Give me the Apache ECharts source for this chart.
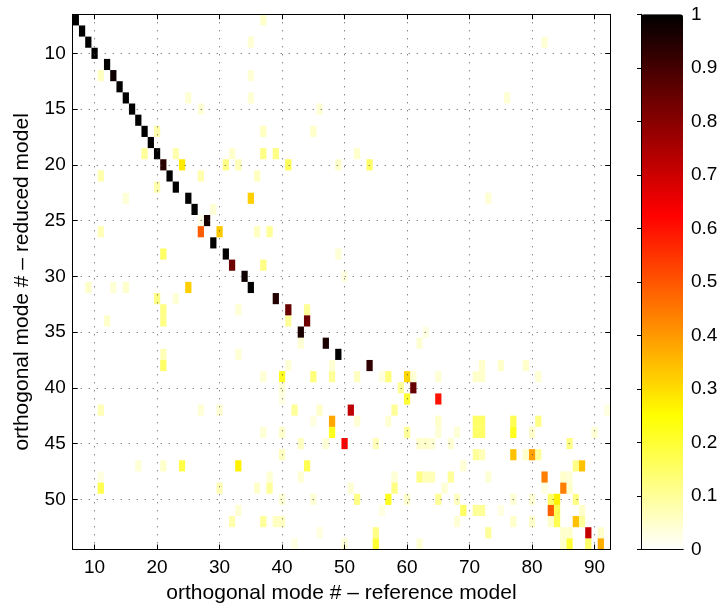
<!DOCTYPE html>
<html><head><meta charset="utf-8">
<script src="https://cdn.jsdelivr.net/npm/echarts@6/dist/echarts.min.js"></script>
<style>html,body{margin:0;padding:0;background:#fff}#c{width:721px;height:609px}</style>
</head><body><div id="c"></div>
<script>
// ---- data ----
const xTicks = [10, 20, 30, 40, 50, 60, 70, 80, 90];
const yTicks = [10, 15, 20, 25, 30, 35, 40, 45, 50];
const cbTicks = [0, 0.1, 0.2, 0.3, 0.4, 0.5, 0.6, 0.7, 0.8, 0.9, 1];
const xExtent = [6.5, 92.5];   // reference model modes 7..92
const yExtent = [6.5, 54.5];   // reduced model modes 7..54
const xTitle = 'orthogonal mode # \u2013 reference model';
const yTitle = 'orthogonal mode # \u2013 reduced model';

// strong (near-diagonal) correlations [refMode, redMode, value]
const diagCells = [
  [7,7,1],[8,8,1],[9,9,1],[10,10,1],[12,11,1],[13,12,0.98],[14,13,1],[15,14,1],[16,15,1],
  [17,16,1],[18,17,1],[19,18,1],[20,19,1],[21,20,0.94],[22,21,1],[23,22,1],[25,23,1],
  [26,24,1],[28,25,0.97],[27,26,0.49],[29,27,1],[31,28,1],[32,29,0.84],[34,30,0.98],
  [35,31,1],[39,32,0.95],[41,33,0.85],[44,34,0.84],[43,35,0.96],[47,36,0.96],[49,37,1],
  [54,38,0.93],[60,39,0.31],[61,40,0.85],[65,41,0.6],[51,42,0.72],[48,43,0.38],[50,45,0.63],
  [80,46,0.39],[77,46,0.34],[88,47,0.34],[82,48,0.44],[85,49,0.44],[84,50,0.27],[83,51,0.49],
  [87,52,0.34],[89,53,0.71],[91,54,0.37]
];
// weaker off-diagonal correlations [refMode, redMode, value]
const offCells = [
  [37,7,0.05],
  [35,9,0.04],[82,9,0.04],
  [11,12,0.06],[35,12,0.04],
  [25,14,0.04],[35,14,0.04],[76,14,0.04],
  [27,15,0.04],[46,15,0.04],
  [20,17,0.08],[37,17,0.06],[45,17,0.05],
  [18,19,0.1],[23,19,0.08],[32,19,0.05],[37,19,0.12],[39,19,0.12],[52,19,0.05],
  [24,20,0.28],[31,20,0.12],[33,20,0.07],[41,20,0.16],[49,20,0.05],[54,20,0.15],
  [11,21,0.08],[27,21,0.08],[36,21,0.06],
  [20,22,0.08],
  [15,23,0.04],[35,23,0.32],[73,23,0.04],
  [29,24,0.04],
  [27,25,0.02],
  [11,26,0.07],[30,26,0.33],[36,26,0.06],[38,26,0.1],
  [21,28,0.15],[49,28,0.04],
  [37,29,0.12],
  [50,30,0.03],
  [9,31,0.05],[13,31,0.04],[15,31,0.05],[25,31,0.32],
  [20,32,0.12],[23,32,0.04],
  [21,33,0.12],[33,33,0.04],[44,33,0.1],
  [12,34,0.05],[21,34,0.12],[41,34,0.1],
  [63,35,0.03],
  [43,36,0.04],[62,36,0.04],
  [21,37,0.07],[33,37,0.04],
  [21,38,0.15],[41,38,0.04],[48,38,0.04],[72,38,0.05],[75,38,0.05],[79,38,0.05],
  [37,39,0.04],[40,39,0.22],[45,39,0.13],[48,39,0.1],[52,39,0.06],[56,39,0.03],[57,39,0.13],
  [61,39,0.04],[65,39,0.04],[71,39,0.05],[72,39,0.05],[81,39,0.04],
  [40,40,0.04],[59,40,0.1],
  [40,41,0.03],[60,41,0.2],
  [11,42,0.07],[27,42,0.04],[30,42,0.04],[42,42,0.1],[46,42,0.05],[58,42,0.1],[92,42,0.03],
  [45,43,0.03],[52,43,0.04],[57,43,0.04],[65,43,0.05],[71,43,0.15],[72,43,0.15],[77,43,0.17],[81,43,0.12],
  [37,44,0.04],[40,44,0.05],[48,44,0.22],[60,44,0.1],[65,44,0.04],[68,44,0.04],[71,44,0.15],
  [72,44,0.15],[77,44,0.22],[80,44,0.05],[90,44,0.04],
  [43,45,0.06],[47,45,0.04],[55,45,0.07],[62,45,0.05],[63,45,0.05],[64,45,0.04],[67,45,0.04],[86,45,0.12],
  [40,46,0.06],[71,46,0.1],[72,46,0.07],[79,46,0.05],[81,46,0.1],
  [17,47,0.04],[21,47,0.05],[24,47,0.18],[33,47,0.27],[44,47,0.17],[69,47,0.04],[87,47,0.12],
  [11,48,0.03],[38,48,0.04],[43,48,0.04],[58,48,0.04],[62,48,0.12],[63,48,0.07],[64,48,0.07],
  [67,48,0.1],[73,48,0.04],[85,48,0.05],[86,48,0.04],
  [11,49,0.17],[30,49,0.07],[36,49,0.05],[38,49,0.1],[51,49,0.04],[58,49,0.12],[66,49,0.04],
  [82,49,0.03],[86,49,0.05],
  [40,50,0.04],[45,50,0.04],[52,50,0.12],[57,50,0.22],[60,50,0.05],[65,50,0.1],[68,50,0.06],
  [77,50,0.04],[80,50,0.04],[83,50,0.15],[87,50,0.12],
  [33,51,0.04],[56,51,0.03],[69,51,0.15],[71,51,0.1],[72,51,0.1],[75,51,0.03],[84,51,0.17],[88,51,0.05],
  [32,52,0.08],[37,52,0.1],[39,52,0.06],[40,52,0.06],[68,52,0.04],[77,52,0.05],[80,52,0.05],
  [83,52,0.05],[84,52,0.17],[88,52,0.1],
  [46,53,0.03],[55,53,0.12],[73,53,0.1],[85,53,0.05],[86,53,0.05],[91,53,0.05],
  [42,54,0.03],[50,54,0.04],[55,54,0.2],[62,54,0.04],[85,54,0.05],[86,54,0.2],[89,54,0.15]
];
// reversed "hot" colormap stops (0 -> white, 1 -> black)
const hotStops = ['#ffffff','#ffff80','#ffff00','#ffaa00','#ff5500','#ff0000','#aa0000','#550000','#000000'];

// ---- chart ----
const FONT = 'Liberation Sans';
const FS = 19;
const FT = 21;
const plot = { left: 72.7, top: 14.3, width: 537.5, height: 535.2 };
const cbar = { left: 641, top: 14.3, width: 42, height: 535.2 };
const gridLine = { show: true, lineStyle: { color: '#555', width: 1, type: [1, 7] } };
const blackLine = { show: true, lineStyle: { color: '#000', width: 1 } };

function renderCell(params, api) {
  const x = api.value(0), y = api.value(1);
  const a = api.coord([x - 0.5, y - 0.5]);
  const b = api.coord([x + 0.5, y + 0.5]);
  return {
    type: 'rect',
    shape: { x: Math.min(a[0], b[0]), y: Math.min(a[1], b[1]),
             width: Math.abs(b[0] - a[0]), height: Math.abs(b[1] - a[1]) },
    style: { fill: api.visual('color') }
  };
}

const chart = echarts.init(document.getElementById('c'), null, { renderer: 'canvas' });
chart.setOption({
  animation: false,
  backgroundColor: '#fff',
  textStyle: { fontFamily: FONT },
  grid: [
    Object.assign({ containLabel: false }, plot),
    Object.assign({ containLabel: false }, cbar)
  ],
  xAxis: [
    { gridIndex: 0, type: 'value', min: xExtent[0], max: xExtent[1], position: 'bottom', z: 5,
      axisLine: blackLine,
      axisTick: { show: true, inside: true, length: 5, customValues: xTicks, lineStyle: { color: '#000' } },
      axisLabel: { show: true, customValues: xTicks, fontSize: FS, color: '#000', margin: 9, fontFamily: FONT },
      splitLine: gridLine,
      name: xTitle, nameLocation: 'middle', nameGap: 32,
      nameTextStyle: { fontSize: FT, color: '#000', fontFamily: FONT } },
    { gridIndex: 0, type: 'value', min: xExtent[0], max: xExtent[1], position: 'top', z: 5,
      axisLine: blackLine,
      axisTick: { show: true, inside: true, length: 5, customValues: xTicks, lineStyle: { color: '#000' } },
      axisLabel: { show: false }, splitLine: { show: false } },
    { gridIndex: 1, type: 'value', min: 0, max: 1, position: 'bottom', z: 10,
      axisLine: blackLine, axisTick: { show: false }, axisLabel: { show: false }, splitLine: { show: false } },
    { gridIndex: 1, type: 'value', min: 0, max: 1, position: 'top', z: 10,
      axisLine: blackLine, axisTick: { show: false }, axisLabel: { show: false }, splitLine: { show: false } }
  ],
  yAxis: [
    { gridIndex: 0, type: 'value', min: yExtent[0], max: yExtent[1], inverse: true, position: 'left', z: 5,
      axisLine: blackLine,
      axisTick: { show: true, inside: true, length: 5, customValues: yTicks, lineStyle: { color: '#000' } },
      axisLabel: { show: true, customValues: yTicks, fontSize: FS, color: '#000', margin: 7, fontFamily: FONT },
      splitLine: gridLine,
      name: yTitle, nameLocation: 'middle', nameGap: 40, nameRotate: 90,
      nameTextStyle: { fontSize: FT, color: '#000', fontFamily: FONT } },
    { gridIndex: 0, type: 'value', min: yExtent[0], max: yExtent[1], inverse: true, position: 'right', z: 5,
      axisLine: blackLine,
      axisTick: { show: true, inside: true, length: 5, customValues: yTicks, lineStyle: { color: '#000' } },
      axisLabel: { show: false }, splitLine: { show: false } },
    { gridIndex: 1, type: 'value', min: 0, max: 1, position: 'right', z: 10,
      axisLine: blackLine,
      axisTick: { show: true, inside: true, length: 4, customValues: cbTicks, lineStyle: { color: '#000' } },
      axisLabel: { show: true, customValues: cbTicks, fontSize: FS, color: '#000', margin: 8, fontFamily: FONT,
                   formatter: v => String(Math.round(v * 10) / 10) },
      splitLine: { show: false } },
    { gridIndex: 1, type: 'value', min: 0, max: 1, position: 'left', z: 10,
      axisLine: blackLine, axisTick: { show: false }, axisLabel: { show: false }, splitLine: { show: false } }
  ],
  visualMap: {
    type: 'continuous', min: 0, max: 1, dimension: 2, seriesIndex: [0, 1],
    inRange: { color: hotStops }, calculable: false, hoverLink: false, realtime: false,
    orient: 'vertical', left: cbar.left, top: cbar.top, itemWidth: cbar.width, itemHeight: cbar.height,
    padding: 0, showLabel: false, z: 1
  },
  series: [
    { type: 'custom', xAxisIndex: 0, yAxisIndex: 0, renderItem: renderCell, data: offCells,
      encode: { x: 0, y: 1 }, silent: true, z: 2 },
    { type: 'custom', xAxisIndex: 0, yAxisIndex: 0, renderItem: renderCell, data: diagCells,
      encode: { x: 0, y: 1 }, silent: true, z: 2 }
  ]
});
</script>
</body></html>
